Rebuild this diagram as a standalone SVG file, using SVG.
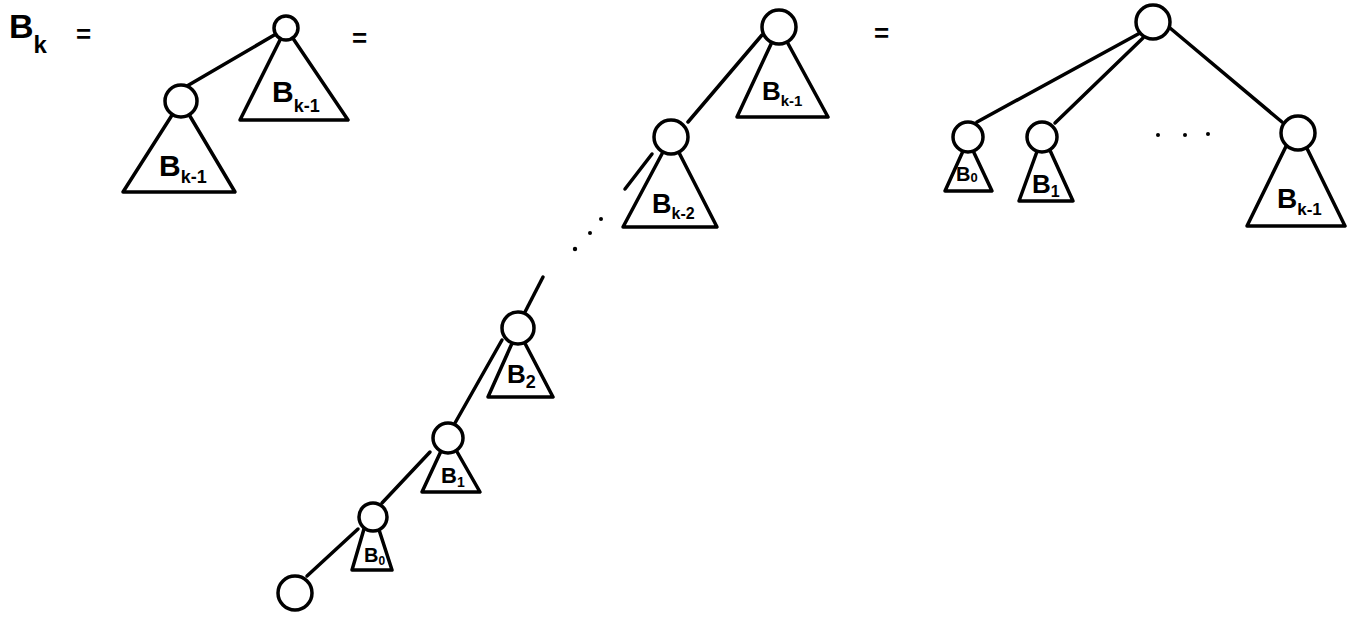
<svg xmlns="http://www.w3.org/2000/svg" width="1359" height="617" viewBox="0 0 1359 617">
<style>
.ln{stroke:#000;stroke-width:3.5;stroke-linecap:round;fill:none}
.nd{fill:#fff;stroke:#000;stroke-width:3.5}
.tri{fill:#fff;stroke:#000;stroke-width:3.5;stroke-linejoin:round}
.lbl{font-family:"Liberation Sans",Arial,sans-serif;font-weight:bold;fill:#000}
.dot{fill:#000}
</style>
<rect width="1359" height="617" fill="#fff"/>
<g id="connectors">
  <line class="ln" x1="187" y1="86" x2="276" y2="34"/>
  <line class="ln" x1="762" y1="35" x2="688" y2="122"/>
  <line class="ln" x1="652" y1="154" x2="625" y2="189"/>
  <line class="ln" x1="543" y1="277" x2="525" y2="312"/>
  <line class="ln" x1="502" y1="340" x2="455" y2="423"/>
  <line class="ln" x1="430" y1="452" x2="382" y2="503"/>
  <line class="ln" x1="358" y1="529" x2="307" y2="576"/>
  <line class="ln" x1="1140" y1="33" x2="977" y2="122"/>
  <line class="ln" x1="1143" y1="38" x2="1055" y2="123"/>
  <line class="ln" x1="1170" y1="28" x2="1282" y2="122"/>
  <circle class="dot" cx="601" cy="219" r="2"/>
  <circle class="dot" cx="590" cy="233" r="2"/>
  <circle class="dot" cx="575" cy="249" r="2.2"/>
  <circle class="dot" cx="1158" cy="135" r="2"/>
  <circle class="dot" cx="1185" cy="135" r="2"/>
  <circle class="dot" cx="1208" cy="134" r="2"/>
</g>
<g id="title">
  <text class="lbl" x="9" y="38" font-size="34">B<tspan font-size="24" dy="15">k</tspan></text>
  <text class="lbl" x="76" y="43" font-size="26">=</text>
  <text class="lbl" x="352" y="47" font-size="26">=</text>
  <text class="lbl" x="874" y="42" font-size="26">=</text>
</g>
<g id="t1-root">
  <polygon class="tri" points="286,28 348,120 240,120"/>
  <circle class="nd" cx="286" cy="28" r="12"/>
  <text class="lbl" x="272" y="102" font-size="30">B<tspan font-size="18" dy="10">k-1</tspan></text>
</g>
<g id="t1-left">
  <polygon class="tri" points="181,101 235,192 123,192"/>
  <circle class="nd" cx="181" cy="101" r="16"/>
  <text class="lbl" x="159" y="176" font-size="30">B<tspan font-size="18" dy="7">k-1</tspan></text>
</g>
<g id="t2-root">
  <polygon class="tri" points="779,27 828,117 737,117"/>
  <circle class="nd" cx="779" cy="27" r="17"/>
  <text class="lbl" x="762" y="100" font-size="26">B<tspan font-size="15" dy="6">k-1</tspan></text>
</g>
<g id="t2-k2">
  <polygon class="tri" points="671,137 717,227 623,227"/>
  <circle class="nd" cx="671" cy="137" r="17"/>
  <text class="lbl" x="652" y="213" font-size="27">B<tspan font-size="16" dy="6">k-2</tspan></text>
</g>
<g id="t2-b2">
  <polygon class="tri" points="518,330 553,397 488,397"/>
  <circle class="nd" cx="518" cy="328" r="16"/>
  <text class="lbl" x="507" y="383" font-size="26">B<tspan font-size="18" dy="5">2</tspan></text>
</g>
<g id="t2-b1">
  <polygon class="tri" points="448,436 480,492 422,492"/>
  <circle class="nd" cx="448" cy="438" r="15"/>
  <text class="lbl" x="441" y="483" font-size="22">B<tspan font-size="14" dy="4">1</tspan></text>
</g>
<g id="t2-b0">
  <polygon class="tri" points="371,505 392,570 352,570"/>
  <circle class="nd" cx="373" cy="517" r="14"/>
  <text class="lbl" x="364" y="562" font-size="20">B<tspan font-size="12" dy="3">0</tspan></text>
</g>
<g id="t2-leaf">
  <circle class="nd" cx="295" cy="593" r="17"/>
</g>
<g id="t3-root">
  <circle class="nd" cx="1153" cy="22" r="17"/>
</g>
<g id="t3-b0">
  <polygon class="tri" points="968,140 992,191 945,191"/>
  <circle class="nd" cx="968" cy="137" r="15"/>
  <text class="lbl" x="956" y="181" font-size="20">B<tspan font-size="13" dy="1">0</tspan></text>
</g>
<g id="t3-b1">
  <polygon class="tri" points="1043,135 1073,201 1019,201"/>
  <circle class="nd" cx="1042" cy="137" r="15"/>
  <text class="lbl" x="1032" y="193" font-size="26">B<tspan font-size="16" dy="4">1</tspan></text>
</g>
<g id="t3-bk1">
  <polygon class="tri" points="1296,126 1345,226 1247,226"/>
  <circle class="nd" cx="1298" cy="133" r="17"/>
  <text class="lbl" x="1277" y="208" font-size="28">B<tspan font-size="17" dy="7">k-1</tspan></text>
</g>
</svg>
